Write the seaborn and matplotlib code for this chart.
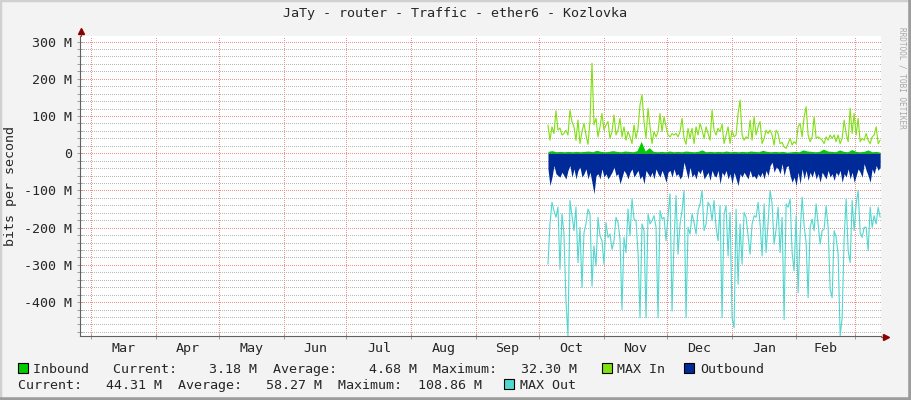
import numpy as np
import matplotlib
matplotlib.use("Agg")
import matplotlib.pyplot as plt
import seaborn as sns
from matplotlib.lines import Line2D
from matplotlib.patches import Rectangle

# ---- data (values in M bit/s) ----
title = "JaTy - router - Traffic - ether6 - Kozlovka"
month_names = ["Mar", "Apr", "May", "Jun", "Jul", "Aug", "Sep", "Oct", "Nov", "Dec", "Jan", "Feb"]
month_start = [0, 31, 61, 92, 122, 153, 184, 214, 245, 275, 306, 337, 365]  # days since Mar 1
data_first_day = 218.3
data_last_day = 377.0

inbound = [5, 7, 4, 5, 4, 5, 4, 5, 4, 5, 6, 4, 8, 5, 4, 5, 7, 5, 4, 6,
           5, 4, 7, 32, 6, 15, 5, 4, 5, 4, 6, 4, 5, 4, 6, 5, 4, 5, 9, 4,
           5, 4, 5, 4, 6, 4, 5, 4, 5, 4, 6, 5, 4, 8, 5, 4, 5, 4, 5, 3,
           4, 5, 4, 9, 6, 5, 4, 5, 11, 6, 5, 4, 9, 5, 4, 10, 5, 4, 5, 9,
           4, 5, 3]

max_in = [76, 35, 71, 53, 114, 62, 68, 49, 53, 62, 49, 116, 85, 71, 35, 89, 26, 58, 80, 49,
          24, 85, 242, 76, 94, 44, 71, 107, 62, 76, 85, 40, 58, 103, 49, 62, 94, 44, 71, 35,
          58, 44, 26, 76, 40, 67, 130, 157, 85, 40, 121, 71, 26, 58, 44, 58, 107, 58, 98, 71,
          49, 44, 53, 49, 53, 44, 58, 94, 40, 24, 67, 40, 67, 26, 71, 49, 80, 62, 40, 71,
          53, 35, 116, 62,
          49, 67, 58, 78, 26, 49, 71, 26, 62, 44, 49, 107, 143, 49, 35, 44, 40, 89, 35, 98,
          49, 71, 85, 26, 40, 62, 53, 62, 49, 22, 62, 53, 26, 29, 17, 13, 26, 40, 22, 31,
          26, 71, 80, 44, 98, 125, 49, 31, 44, 98, 40, 44, 40, 35, 26, 44, 35, 49, 40, 49,
          31, 49, 26, 40, 89, 53, 31, 121, 53, 107, 49, 94, 31, 40, 35, 53, 35, 26, 44, 49,
          71, 26, 35]

outbound = [-42, -87, -64, -33, -55, -60, -64, -51, -60, -69, -46, -33, -64, -42, -69, -46, -37, -64, -55, -42,
            -69, -51, -78, -109, -60, -55, -69, -42, -64, -55, -69, -60, -51, -37, -60, -55, -82, -64, -46, -55,
            -69, -51, -42, -64, -55, -46, -69, -60, -82, -46, -55, -64, -51, -69, -42, -55, -64, -46, -60, -78,
            -51, -46, -64, -42, -60, -55, -69, -60, -24, -46, -69, -37, -64, -55, -69, -46, -55, -42, -69, -60,
            -51, -73, -46, -60,
            -64, -46, -82, -51, -60, -46, -69, -55, -82, -51, -69, -87, -55, -64, -51, -60, -69, -46, -64, -60,
            -69, -55, -64, -51, -69, -46, -60, -33, -24, -51, -37, -42, -55, -28, -60, -37, -33, -60, -78, -64,
            -87, -51, -82, -42, -69, -46, -73, -51, -64, -46, -69, -55, -78, -51, -60, -69, -46, -64, -55, -73,
            -51, -60, -46, -78, -55, -64, -42, -69, -51, -78, -60, -42, -51, -64, -28, -46, -60, -78, -42, -55,
            -33, -46, -37]

max_out = [-298, -190, -132, -154, -172, -145, -312, -163, -217, -397, -490, -127, -168, -208, -145, -294, -199, -361, -213, -190,
           -150, -163, -357, -249, -303, -172, -222, -235, -298, -186, -226, -217, -258, -235, -172, -186, -231, -420, -226, -267,
           -150, -222, -123, -177, -181, -267, -442, -190, -208, -442, -163, -190, -181, -168, -199, -442, -154, -177, -172, -235,
           -168, -109, -424, -235, -114, -271, -190, -154, -100, -442, -199, -217, -163, -186, -217, -154, -136, -100, -208, -190,
           -132, -141, -181, -127,
           -199, -235, -141, -442, -163, -141, -276, -159, -442, -469, -150, -352, -190, -298, -159, -172, -222, -271, -190, -168,
           -172, -132, -190, -276, -136, -267, -186, -100, -136, -244, -204, -145, -267, -172, -447, -136, -145, -123, -267, -316,
           -168, -375, -217, -118, -195, -240, -388, -199, -177, -208, -136, -190, -244, -208, -204, -141, -199, -366, -388, -208,
           -226, -271, -490, -442, -226, -123, -262, -294, -127, -208, -136, -100, -213, -226, -199, -199, -262, -145, -199, -168,
           -190, -145, -172]

legend_line1 = "Inbound   Current:    3.18 M  Average:    4.68 M  Maximum:   32.30 M"
legend_line2 = "Current:   44.31 M  Average:   58.27 M  Maximum:  108.86 M"

c_in, c_maxin, c_out, c_maxout = "#00CC00", "#80E010", "#002A97", "#50D8D0"

# ---- figure ----
W, H = 911, 400
sns.set_theme(style="white")
plt.rcParams["font.family"] = ["DejaVu Sans Mono", "DejaVu Sans"]
fs = 9.6

fig = plt.figure(figsize=(W / 100, H / 100), dpi=100, facecolor="#F3F3F3")
ax = fig.add_axes([80 / W, 64 / H, 801 / W, 300 / H], facecolor="white")


def fx(px):
    return px / W


def fy(py):
    return 1 - py / H


x_in = np.linspace(data_first_day, data_last_day, len(inbound))
x_maxin = np.linspace(data_first_day, data_last_day, len(max_in))
x_out = np.linspace(data_first_day, data_last_day, len(outbound))
x_maxout = np.linspace(data_first_day, data_last_day, len(max_out))

ax.fill_between(x_in, 0, inbound, color=c_in, lw=0, zorder=2)
sns.lineplot(x=x_maxin, y=max_in, ax=ax, color=c_maxin, lw=0.8, zorder=3)
ax.fill_between(x_out, 0, outbound, color=c_out, lw=0, zorder=4)
sns.lineplot(x=x_maxout, y=max_out, ax=ax, color=c_maxout, lw=0.8, zorder=5)

ax.set_xlim(-5.26, 377.4)
ax.set_ylim(-491, 315)

# ticks
ax.set_yticks(np.arange(-400, 301, 100))
ax.set_yticklabels([("%d M" % v) if v != 0 else "0" for v in range(-400, 301, 100)])
ax.set_yticks(np.arange(-480, 315, 20), minor=True)
ax.set_xticks(month_start)
ax.set_xticklabels([])
mids = [(month_start[i] + month_start[i + 1]) / 2 for i in range(12)]
ax.set_xticks(mids, minor=True)
ax.set_xticklabels(month_names, minor=True)

# dotted grid, drawn by hand so it stays crisp
ax.grid(False)
dot = (0, (1, 2))
for v in ax.get_yticks(minor=True):
    if v % 100 != 0:
        ax.axhline(v, color="#B8B8B8", lw=0.72, ls=dot, antialiased=False, zorder=1)
for v in ax.get_yticks():
    ax.axhline(v, color="#F09090", lw=0.72, ls=dot, antialiased=False, zorder=1)
for d in month_start:
    ax.axvline(d, color="#F09090", lw=0.72, ls=dot, antialiased=False, zorder=1)

ax.tick_params(axis="y", which="both", direction="inout", length=4, width=0.72,
               color="#A0A0A0", labelsize=fs, pad=4, left=True)
ax.tick_params(axis="x", which="major", direction="inout", length=4, width=0.72,
               color="#A0A0A0", bottom=True)
ax.tick_params(axis="x", which="minor", length=0, labelsize=fs, pad=4)

for s in ("top", "right"):
    ax.spines[s].set_visible(False)
for s in ("left", "bottom"):
    ax.spines[s].set_color("#606060")
    ax.spines[s].set_linewidth(0.8)
    ax.spines[s].set_zorder(6)

# axis arrows
fig.add_artist(Line2D([fx(80.5), fx(80.5)], [fy(36), fy(32)], color="#606060", lw=0.8))
fig.add_artist(Line2D([fx(881), fx(884)], [fy(336.5), fy(336.5)], color="#606060", lw=0.8))
fig.add_artist(Line2D([fx(80.5)], [fy(31)], marker="^", ms=4.5, color="#8B0000", lw=0))
fig.add_artist(Line2D([fx(886)], [fy(336.5)], marker=">", ms=4.5, color="#8B0000", lw=0))

# texts
fig.text(fx(455), fy(14), title, ha="center", va="center", fontsize=fs)
fig.text(fx(11), fy(186), "bits per second", rotation=90, ha="center", va="center", fontsize=fs)
fig.text(fx(902), fy(78), "RRDTOOL / TOBI OETIKER", rotation=270, ha="center", va="center",
         fontsize=5.6, color="#A8A8A8")

# legend
def swatch(px, py, color):
    fig.add_artist(Rectangle((fx(px), fy(py + 10)), 10 / W, 10 / H, transform=fig.transFigure,
                             facecolor=color, edgecolor="black", lw=0.8))

base1, base2 = 373, 389
swatch(17.5, 363, c_in)
fig.text(fx(33), fy(base1), legend_line1, fontsize=fs, va="baseline")
swatch(602, 363, c_maxin)
fig.text(fx(617), fy(base1), "MAX In", fontsize=fs, va="baseline")
swatch(683.5, 363, c_out)
fig.text(fx(700), fy(base1), "Outbound", fontsize=fs, va="baseline")
fig.text(fx(18), fy(base2), legend_line2, fontsize=fs, va="baseline")
swatch(504, 379, c_maxout)
fig.text(fx(519.5), fy(base2), "MAX Out", fontsize=fs, va="baseline")

# 3d frame
fig.add_artist(Line2D([0, 0, 1], [0, 1, 1], transform=fig.transFigure, color="#D0D0D0", lw=2.5))
fig.add_artist(Line2D([0, 1, 1], [0, 0, 1], transform=fig.transFigure, color="#9C9C9C", lw=4))

fig.savefig("out.png", dpi=100, facecolor=fig.get_facecolor())
